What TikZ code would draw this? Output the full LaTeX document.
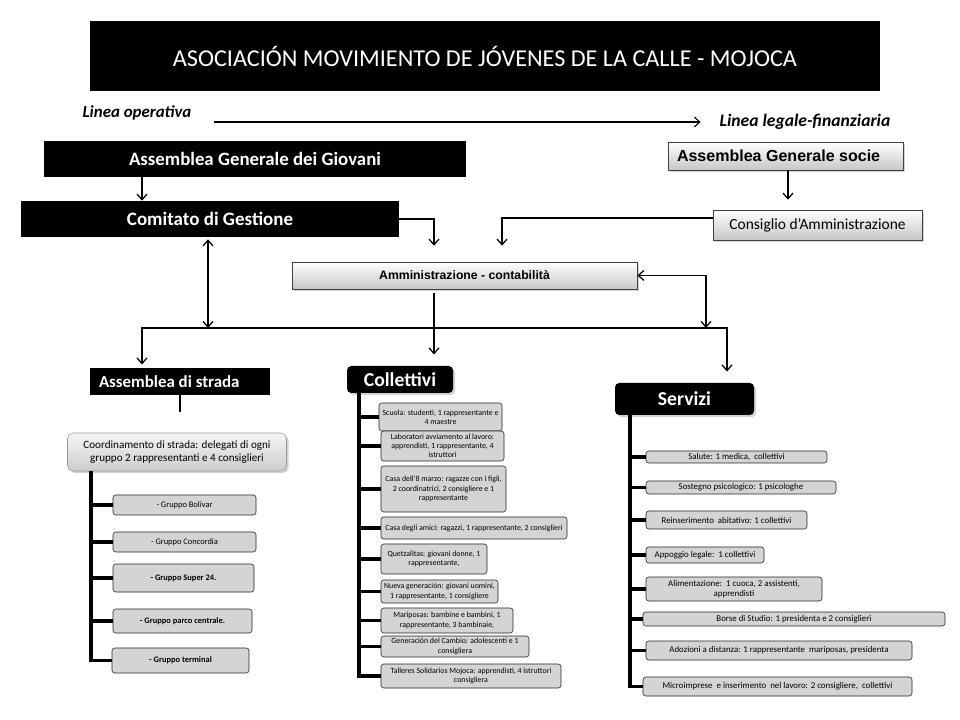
\documentclass[tikz,border=0pt]{standalone}
\usepackage{fontspec}
\setmainfont{Carlito}
\newfontfamily\arialfont{Liberation Sans}
\usetikzlibrary{arrows.meta,shadows}

\tikzset{
  bw/.style={minimum width=#1*0.025cm},
  bh/.style={minimum height=#1*0.025cm},
  blackbox/.style={fill=black,text=white,inner sep=0pt},
  blackround/.style={blackbox,rounded corners=3pt,
    drop shadow={shadow xshift=1.5pt,shadow yshift=-1.5pt,opacity=0.35}},
  greybar/.style={draw=black!75,top color=white,bottom color=black!22,inner sep=0pt,
    drop shadow={shadow xshift=1.5pt,shadow yshift=-1.5pt,opacity=0.35}},
  itembox/.style={draw=black!85,fill=black!17,rounded corners=2pt,inner sep=0pt,align=center},
  flow/.style={-{Straight Barb[length=4pt,width=7pt]},line width=0.9pt},
  dflow/.style={{Straight Barb[length=4pt,width=7pt]}-{Straight Barb[length=4pt,width=7pt]},line width=0.9pt},
  plain/.style={line width=0.9pt},
  trunk/.style={line width=2.2pt},
}

\begin{document}
\begin{tikzpicture}[x=0.025cm,y=-0.025cm]
  \useasboundingbox (0,0) rectangle (960,720);

  % title and the two lines
  \node[blackbox,bw=790,bh=70,font=\fontsize{17.2}{20}\selectfont] (title) at (485,56)
    {ASOCIACIÓN MOVIMIENTO DE JÓVENES DE LA CALLE - MOJOCA};
  \node[font=\bfseries\itshape\fontsize{12}{14}\selectfont] (lop) at (137,113) {Linea operativa};
  \node[font=\bfseries\itshape\fontsize{12.5}{14}\selectfont] (llf) at (805,122) {Linea legale-finanziaria};
  \draw[flow,line width=0.8pt,shorten <=0.45cm,shorten >=0.35cm] (lop.east |- llf.west) -- (llf.west);

  % operative side
  \node[blackbox,bw=422,bh=36,font=\bfseries\fontsize{13.4}{15}\selectfont] (agg) at (255,159)
    {Assemblea Generale dei Giovani};
  \node[blackbox,bw=378,bh=36,font=\bfseries\fontsize{13.5}{15}\selectfont] (comitato) at (210,219)
    {Comitato di Gestione};

  % legal-financial side
  \node[greybar,bw=235,bh=28,text width=217*0.025cm,align=flush left,
    font=\arialfont\bfseries\fontsize{11.4}{13}\selectfont] (ags) at (785.5,156)
    {Assemblea Generale socie};
  \node[greybar,bw=209,bh=30,font=\fontsize{11}{13}\selectfont] (consiglio) at (817.5,225)
    {Consiglio d’Amministrazione};
  \node[greybar,bw=345,bh=27,font=\arialfont\bfseries\fontsize{8.7}{10}\selectfont] (ammin) at (464.5,275.5)
    {Amministrazione - contabilità};

  % the three branches
  \node[blackbox,bw=180,bh=27,text width=162*0.025cm,align=flush left,
    font=\bfseries\fontsize{12}{14}\selectfont] (strada) at (180,381.5)
    {Assemblea di strada};
  \node[blackround,bw=106,bh=27,font=\bfseries\fontsize{14}{16}\selectfont] (collettivi) at (400,379.5)
    {Collettivi};
  \node[blackround,bw=139,bh=32,font=\bfseries\fontsize{14}{16}\selectfont] (servizi) at (684.5,399)
    {Servizi};

  % column x positions and the bus line
  \coordinate (xa) at (142,0);
  \coordinate (xb) at (208,0);
  \coordinate (xc) at (434,0);
  \coordinate (xd) at (502,0);
  \coordinate (xe) at (706,0);
  \coordinate (xf) at (727,0);
  \coordinate (xg) at (788,0);
  \coordinate (xh) at (180,0);
  \coordinate (bus) at (0,328);

  \draw[flow] (agg.south -| xa) -- (comitato.north -| xa);
  \draw[flow,shorten >=0.4cm] (comitato.east) -| (ammin.north -| xc);
  \draw[flow,shorten >=0.25cm] (ags.south -| xg) -- (consiglio.north -| xg);
  \draw[flow,shorten >=0.4cm] ([yshift=0.175cm]consiglio.west) -| (ammin.north -| xd);
  \draw[dflow,shorten <=0.05cm] (comitato.south -| xb) -- (bus -| xb);
  \draw[dflow,shorten <=0.08cm,shorten >=0.28cm] (strada.north -| xa) |- (bus -| xf) -- (servizi.north -| xf);
  \draw[flow,shorten <=0.1cm,shorten >=0.28cm] (ammin.south -| xc) -- (collettivi.north -| xc);
  \draw[dflow] (ammin.east) -| (bus -| xe);

  % Assemblea di strada
  \node[greybar,rounded corners=4pt,draw=black!40,top color=black!4,bottom color=black!20,
    bw=219,bh=38,align=center,font=\fontsize{7.9}{9.5}\selectfont] (coord) at (177,452)
    {Coordinamento di strada: delegati di ogni\\gruppo 2 rappresentanti e 4 consiglieri};
  \draw[plain,shorten >=0.52cm] (strada.south -| xh) -- (coord.north -| xh);
  \foreach \n/\x/\y/\w/\h/\txt in {%
    g1/184.5/505/143/20/{- Gruppo Bolivar},
    g2/184.5/542/143/20/{- Gruppo Concordia},
    g3/183.5/578/141/28/{\bfseries - Gruppo Super 24.},
    g4/182.5/621/139/24/{\bfseries - Gruppo parco centrale.},
    g5/180.5/660.5/137/25/{\bfseries - Gruppo terminal}} {
    \node[itembox,bw=\w,bh=\h,font=\fontsize{6}{7}\selectfont] (\n) at (\x,\y) {\txt};
  }
  \coordinate (gtr) at (91,471);
  \foreach \n in {g1,g2,g3,g4} {
    \draw[trunk] (\n.west) -- (\n.west -| gtr);
  }
  \draw[trunk] (gtr) |- (g5.west);

  % Collettivi
  \foreach \n/\x/\y/\w/\h/\txt in {%
    c1/440.5/417/123/28/{Scuola: studenti, 1 rappresentante e\\4 maestre},
    c2/442.5/446/123/30/{Laboratori avviamento al lavoro:\\apprendisti, 1 rappresentante, 4\\istruttori},
    c3/443.5/489/125/46/{Casa dell'8 marzo: ragazze con i figli,\\2 coordinatrici, 2 consigliere e 1\\rappresentante},
    c4/474/528/186/22/{Casa degli amici: ragazzi, 1 rappresentante, 2 consiglieri},
    c5/434/559/106/30/{Quetzalitas: giovani donne, 1\\rappresentante,},
    c6/439.5/591.5/117/23/{Nueva generación: giovani uomini,\\1 rappresentante, 1 consigliere},
    c7/447/620.5/132/25/{Mariposas: bambine e bambini, 1\\rappresentante, 3 bambinaie,},
    c8/455/646.5/148/21/{Generación del Cambio: adolescenti e 1\\consigliera},
    c9/471/676/180/24/{Talleres Solidarios Mojoca: apprendisti, 4 istruttori\\consigliera}} {
    \node[itembox,bw=\w,bh=\h,font=\fontsize{5.6}{6.6}\selectfont] (\n) at (\x,\y) {\txt};
  }
  \coordinate (ctr) at (359,393);
  \foreach \n in {c1,c2,c3,c4,c5,c6,c7,c8} {
    \draw[trunk] (\n.west) -- (\n.west -| ctr);
  }
  \draw[trunk] (ctr) |- (c9.west);

  % Servizi
  \foreach \n/\x/\y/\w/\h/\txt in {%
    s1/736.5/457/181/12/{Salute: 1 medica,\ \ collettivi},
    s2/741/487.5/190/13/{Sostegno psicologico: 1 psicologhe},
    s3/726.5/520/161/18/{Reinserimento\ \ abitativo: 1 collettivi},
    s4/705/555/118/16/{Appoggio legale:\ \ 1 collettivi},
    s5/734/589/176/24/{Alimentazione:\ \ 1 cuoca, 2 assistenti,\\apprendisti},
    s6/794/619/302/14/{Borse di Studio: 1 presidenta e 2 consiglieri},
    s7/779/650.5/266/19/{Adozioni a distanza: 1 rappresentante\ \ mariposas, presidenta},
    s8/777.5/686.5/269/19/{Microimprese\ \ e inserimento\ \ nel lavoro: 2 consigliere,\ \ collettivi}} {
    \node[itembox,bw=\w,bh=\h,font=\fontsize{6.3}{7.5}\selectfont] (\n) at (\x,\y) {\txt};
  }
  \coordinate (str) at (630,415);
  \foreach \n in {s1,s2,s3,s4,s5,s6,s7} {
    \draw[trunk] (\n.west) -- (\n.west -| str);
  }
  \draw[trunk] (str) |- (s8.west);
\end{tikzpicture}
\end{document}
